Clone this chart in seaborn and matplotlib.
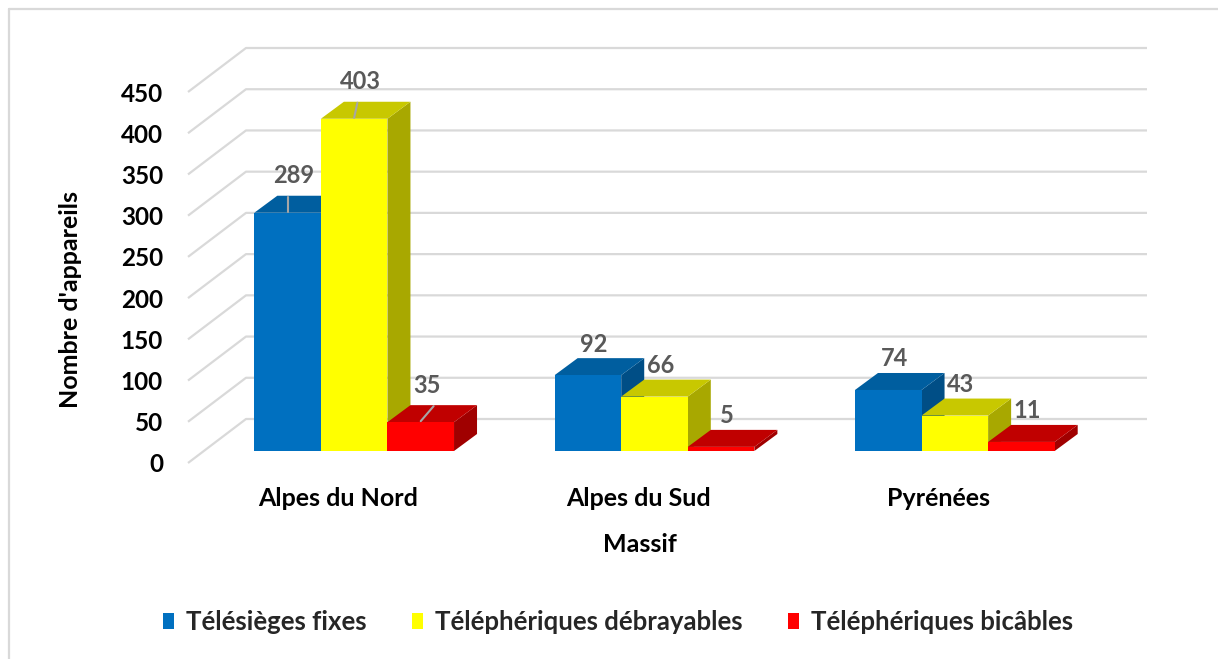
import matplotlib
matplotlib.use("Agg")
import matplotlib.pyplot as plt
import matplotlib.transforms as mtransforms
from matplotlib.patches import Polygon, Patch
from matplotlib.lines import Line2D
import seaborn as sns
import pandas as pd

# ---------------- data ----------------
massifs = ["Alpes du Nord", "Alpes du Sud", "Pyrénées"]
series = ["Télésièges fixes", "Téléphériques débrayables", "Téléphériques bicâbles"]
telesieges_fixes = [289, 92, 74]
debrayables = [403, 66, 43]
bicables = [35, 5, 11]
y_ticks = [0, 50, 100, 150, 200, 250, 300, 350, 400, 450]
x_title = "Massif"
y_title = "Nombre d'appareils"

# ---------------- style ----------------
front_cols = ["#0070C0", "#FFFF00", "#FF0000"]
top_cols = ["#005E9F", "#C8C800", "#C00000"]
side_cols = ["#004E86", "#A8A800", "#A00000"]
grid_col = "#D9D9D9"
label_col = "#595959"
FONT = ["Lato", "DejaVu Sans"]

sns.set_theme(style="white")
plt.rcParams["font.family"] = FONT
plt.rcParams["font.weight"] = "bold"

W, H, DPI = 1218, 659, 100
fig = plt.figure(figsize=(W / DPI, H / DPI), dpi=DPI)
fig.patch.set_facecolor("white")

# axes = plane through the bar fronts
AX_L, AX_R, AX_B, AX_T = 204, 1105, 451, 80
ax = fig.add_axes([AX_L / W, 1 - AX_B / H, (AX_R - AX_L) / W, (AX_B - AX_T) / H])

df = pd.DataFrame({
    "Massif": massifs * 3,
    "Type": [s for s in series for _ in massifs],
    "Nombre": telesieges_fixes + debrayables + bicables,
})

sns.barplot(data=df, x="Massif", y="Nombre", hue="Type", order=massifs,
            hue_order=series, palette=front_cols, saturation=1, width=0.665,
            linewidth=0, legend=False, ax=ax, errorbar=None)

XMIN, XMAX, YMIN, YMAX = -0.5, 2.5, 0, 450
ax.set_xlim(XMIN, XMAX)
ax.set_ylim(YMIN, YMAX)
ax.patch.set_alpha(0)
for s in ax.spines.values():
    s.set_visible(False)
ax.grid(False)

# pixel -> data conversion
px_x = (XMAX - XMIN) / (AX_R - AX_L)
px_y = (YMAX - YMIN) / (AX_B - AX_T)

# depth offsets (image px: right, up)
bar_dx, bar_dy = 23 * px_x, 17 * px_y          # bar depth
front_dx, front_dy = -16 * px_x, -12 * px_y    # front edge of floor
back_dx, back_dy = 42 * px_x, 32 * px_y        # back wall

# walls / gridlines
for v in y_ticks:
    ax.plot([XMIN + front_dx, XMIN + back_dx, XMAX + back_dx],
            [v + front_dy, v + back_dy, v + back_dy],
            color=grid_col, lw=1.6, zorder=0.5, clip_on=False,
            solid_capstyle="butt")

# 3D faces
for i, cont in enumerate(ax.containers):
    for j, p in enumerate(cont.patches):
        x0 = p.get_x()
        w = p.get_width()
        x1 = x0 + w
        v = p.get_height()
        z = 2 + i * 0.1
        p.set_zorder(z)
        p.set_clip_on(False)
        side = Polygon([(x1, 0), (x1 + bar_dx, bar_dy), (x1 + bar_dx, v + bar_dy), (x1, v)],
                       closed=True, facecolor=side_cols[i], edgecolor="none",
                       zorder=z - 0.05, clip_on=False)
        top = Polygon([(x0, v), (x1, v), (x1 + bar_dx, v + bar_dy), (x0 + bar_dx, v + bar_dy)],
                      closed=True, facecolor=top_cols[i], edgecolor="none",
                      zorder=z - 0.04, clip_on=False)
        ax.add_patch(side)
        ax.add_patch(top)
        # data label
        cx = x0 + w / 2
        lx = cx + 6 * px_x
        lift = 20 if j == 0 else 14
        ly = v + bar_dy + lift * px_y
        ax.text(lx, ly, f"{int(v)}", ha="center", va="center", color=label_col,
                fontsize=17, fontweight="bold", zorder=5, clip_on=False)
        if j == 0:
            ax.plot([cx, cx + bar_dx * 0.14 * i * i],
                    [v + 1 * px_y, v + bar_dy - 1 * px_y],
                    color="#A6A6A6", lw=1.5, zorder=4, clip_on=False)

# ticks
ax.set_yticks(y_ticks)
ax.set_yticklabels([str(t) for t in y_ticks])
ax.set_xticks(range(len(massifs)))
ax.set_xticklabels(massifs)
ax.tick_params(axis="both", length=0)
ax.tick_params(axis="y", pad=18, labelsize=17.5, labelcolor="black")
ax.tick_params(axis="x", pad=17, labelsize=18, labelcolor="black")
for lab in ax.get_yticklabels():
    lab.set_fontweight("bold")
    lab.set_transform(lab.get_transform() +
                      mtransforms.ScaledTranslation(-16 / DPI, -12 / DPI, fig.dpi_scale_trans))
for lab in ax.get_xticklabels():
    lab.set_fontweight("bold")
    lab.set_transform(lab.get_transform() +
                      mtransforms.ScaledTranslation(-16 / DPI, -12 / DPI, fig.dpi_scale_trans))

ax.set_xlabel(x_title, fontsize=18, fontweight="bold", color="black")
ax.set_ylabel(y_title, fontsize=18, fontweight="bold", color="black")
ax.xaxis.set_label_coords((640 - AX_L) / (AX_R - AX_L), -(545 - AX_B) / (AX_B - AX_T))
ax.xaxis.label.set_va("center")
ax.yaxis.set_label_coords((70 - AX_L) / (AX_R - AX_L), (AX_B - 300) / (AX_B - AX_T))
ax.yaxis.label.set_va("center")

# legend
handles = [Patch(facecolor=c, edgecolor="none") for c in front_cols]
fig.legend(handles, series, loc="center", bbox_to_anchor=(618 / W, 1 - 622 / H),
           ncol=3, frameon=False, handlelength=0.43, handleheight=0.62,
           handletextpad=0.47, columnspacing=1.75,
           prop={"family": FONT, "weight": "bold", "size": 18.5})

# chart-area border (left and top visible)
fig.add_artist(Line2D([9 / W, 9 / W], [0, 1 - 9 / H], color=grid_col, lw=1.6,
                      transform=fig.transFigure))
fig.add_artist(Line2D([9 / W, 1], [1 - 9 / H, 1 - 9 / H], color=grid_col, lw=1.6,
                      transform=fig.transFigure))

fig.savefig("out.png", dpi=DPI, facecolor="white")
